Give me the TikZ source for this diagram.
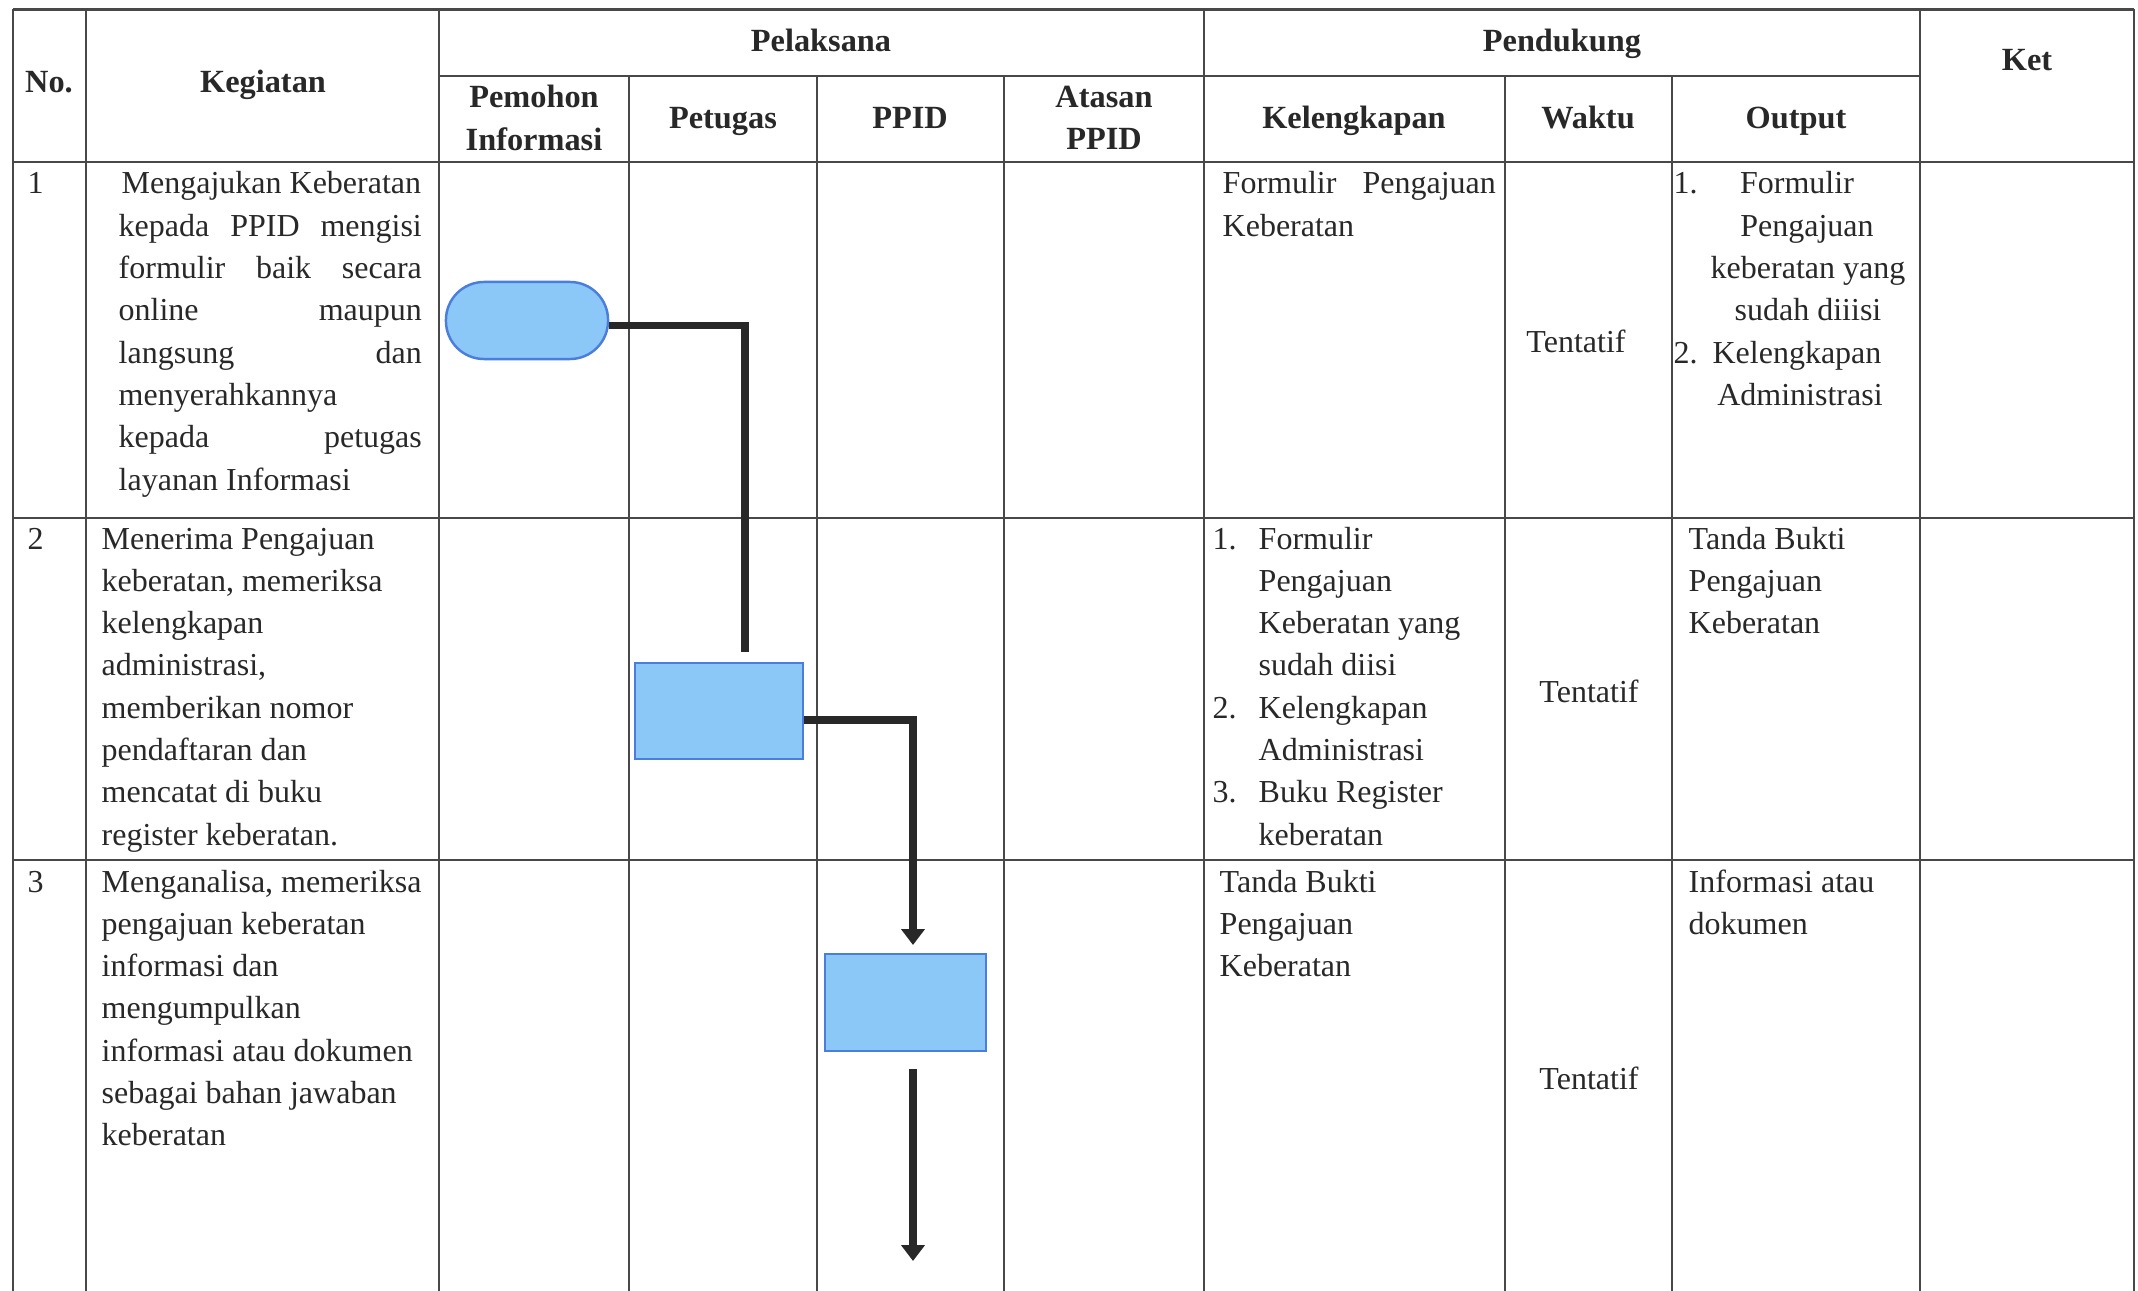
\documentclass[tikz,border=0pt]{standalone}
\usepackage{fontspec}
\setmainfont{Liberation Serif}
\usetikzlibrary{arrows.meta}
\definecolor{boxfill}{RGB}{140,200,247}
\definecolor{boxline}{RGB}{75,125,220}
\definecolor{ink}{RGB}{40,40,40}
\begin{document}
\begin{tikzpicture}[x=0.01cm, y=-0.01cm, color=ink, font=\fontsize{9.1}{12}\selectfont, line join=miter,
		grid/.style={draw=ink!85, line width=0.6pt},
		hd/.style={font=\fontsize{9.2}{12}\selectfont\bfseries, align=center, inner sep=0pt},
		hb/.style={hd, anchor=base},
		txt/.style={anchor=base west, inner sep=0pt},
		ctr/.style={anchor=base, inner sep=0pt},
		proc/.style={draw=boxline, fill=boxfill, line width=0.7pt, inner sep=0pt},
		link/.style={draw=ink, line width=2pt},
		flow/.style={link, -{Triangle[length=4.5pt,width=6.5pt]}}]
		\def\ls{42.3} \def\kw{3.03cm}
		\def\ya{194} \def\yb{549} \def\yc{892}
		\useasboundingbox (0,0) rectangle (2138,1291);
		% tabel
		\foreach \x in {13,86,439,1204,1920,2134} \draw[grid] (\x,9.5)--(\x,1291);
		\foreach \x in {629,817,1004,1505,1672} \draw[grid] (\x,76)--(\x,1291);
		\draw[grid] (439,76)--(1920,76);
		\foreach \y in {9.5,162,518,860} \draw[grid] (13,\y)--(2134,\y);
		% kepala tabel
		\node (hNo) at (49,93) [hb] {No.};
		\node (hKeg) at (263,93) [hb] {Kegiatan};
		\node (hPel) at (821,52) [hb] {Pelaksana};
		\node (hPen) at (1562,52) [hb] {Pendukung};
		\node (hKet) at (2027,71) [hb] {Ket};
		\node (hPem) at (534,118) [hd] {Pemohon\\Informasi};
		\node (hPet) at (723,129) [hb] {Petugas};
		\node (hPPID) at (910,129) [hb] {PPID};
		\node (hAts) at (1104,118) [hd] {Atasan\\PPID};
		\node (hKel) at (1354,129) [hb] {Kelengkapan};
		\node (hWak) at (1588,129) [hb] {Waktu};
		\node (hOut) at (1796,129) [hb] {Output};
		% baris 1
		\node (n1) at (27,\ya) [txt] {1};
		\node (k1-1) at (121,\ya) [txt] {Mengajukan Keberatan};
		\foreach \t [count=\i from 2] in {kepada PPID mengisi, formulir baik secara, online maupun, langsung dan}
			\node (k1-\i) at (118,{\ya+(\i-1)*\ls}) [txt] {\makebox[\kw][s]{\t}};
		\node (k1-6) at (118,{\ya+5*\ls}) [txt] {menyerahkannya};
		\node (k1-7) at (118,{\ya+6*\ls}) [txt] {\makebox[\kw][s]{kepada petugas}};
		\node (k1-8) at (118,{\ya+7*\ls}) [txt] {layanan Informasi};
		\node (l1-1) at (1222,\ya) [txt] {\makebox[2.73cm][s]{Formulir Pengajuan}};
		\node (l1-2) at (1222,{\ya+\ls}) [txt] {Keberatan};
		\node (w1) at (1576,341) {Tentatif};
		\node (o1a) at (1673,\ya) [txt] {1.};
		\node (o1b) at (1673,{\ya+4*\ls}) [txt] {2.};
		\foreach \x/\t [count=\i] in {1797/Formulir, 1807/Pengajuan, 1808/keberatan yang, 1808/sudah diiisi, 1797/Kelengkapan, 1800/Administrasi}
			\node (o1-\i) at (\x,{\ya+(\i-1)*\ls}) [ctr] {\t};
		% baris 2
		\node (n2) at (27,\yb) [txt] {2};
		\foreach \t [count=\i] in {Menerima Pengajuan, {keberatan, memeriksa}, kelengkapan, {administrasi,}, memberikan nomor, pendaftaran dan, mencatat di buku, register keberatan.}
			\node (k2-\i) at (101,{\yb+(\i-1)*\ls}) [txt] {\t};
		\node (l2a) at (1212,\yb) [txt] {1.};
		\node (l2b) at (1212,{\yb+4*\ls}) [txt] {2.};
		\node (l2c) at (1212,{\yb+6*\ls}) [txt] {3.};
		\foreach \t [count=\i] in {Formulir, Pengajuan, Keberatan yang, sudah diisi, Kelengkapan, Administrasi, Buku Register, keberatan}
			\node (l2-\i) at (1258,{\yb+(\i-1)*\ls}) [txt] {\t};
		\node (w2) at (1589,691) {Tentatif};
		\foreach \t [count=\i] in {Tanda Bukti, Pengajuan, Keberatan}
			\node (o2-\i) at (1688,{\yb+(\i-1)*\ls}) [txt] {\t};
		% baris 3
		\node (n3) at (27,\yc) [txt] {3};
		\foreach \t [count=\i] in {{Menganalisa, memeriksa}, pengajuan keberatan, informasi dan, mengumpulkan, informasi atau dokumen, sebagai bahan jawaban, keberatan}
			\node (k3-\i) at (101,{\yc+(\i-1)*\ls}) [txt] {\t};
		\foreach \t [count=\i] in {Tanda Bukti, Pengajuan, Keberatan}
			\node (l3-\i) at (1219,{\yc+(\i-1)*\ls}) [txt] {\t};
		\node (w3) at (1589,1078) {Tentatif};
		\foreach \t [count=\i] in {Informasi atau, dokumen}
			\node (o3-\i) at (1688,{\yc+(\i-1)*\ls}) [txt] {\t};
		% alur
		\node (mulai) at (527,320.5) [proc, minimum width=1.62cm, minimum height=0.77cm, rounded corners=0.38cm] {};
		\node (terima) at (719,711) [proc, minimum width=1.68cm, minimum height=0.96cm] {};
		\node (analisa) at (905.5,1002.5) [proc, minimum width=1.61cm, minimum height=0.97cm] {};
		\coordinate (t1) at (745,652);
		\coordinate (t2) at (913,945);
		\coordinate (t3) at (913,1261);
		\draw[link] ([yshift=-0.05cm]mulai.east) -| (t1);
		\draw[flow] ([yshift=-0.09cm]terima.east) -| (t2);
		\draw[flow, shorten <=0.17cm] (analisa.south -| t3) -- (t3);
	\end{tikzpicture}
\end{document}
